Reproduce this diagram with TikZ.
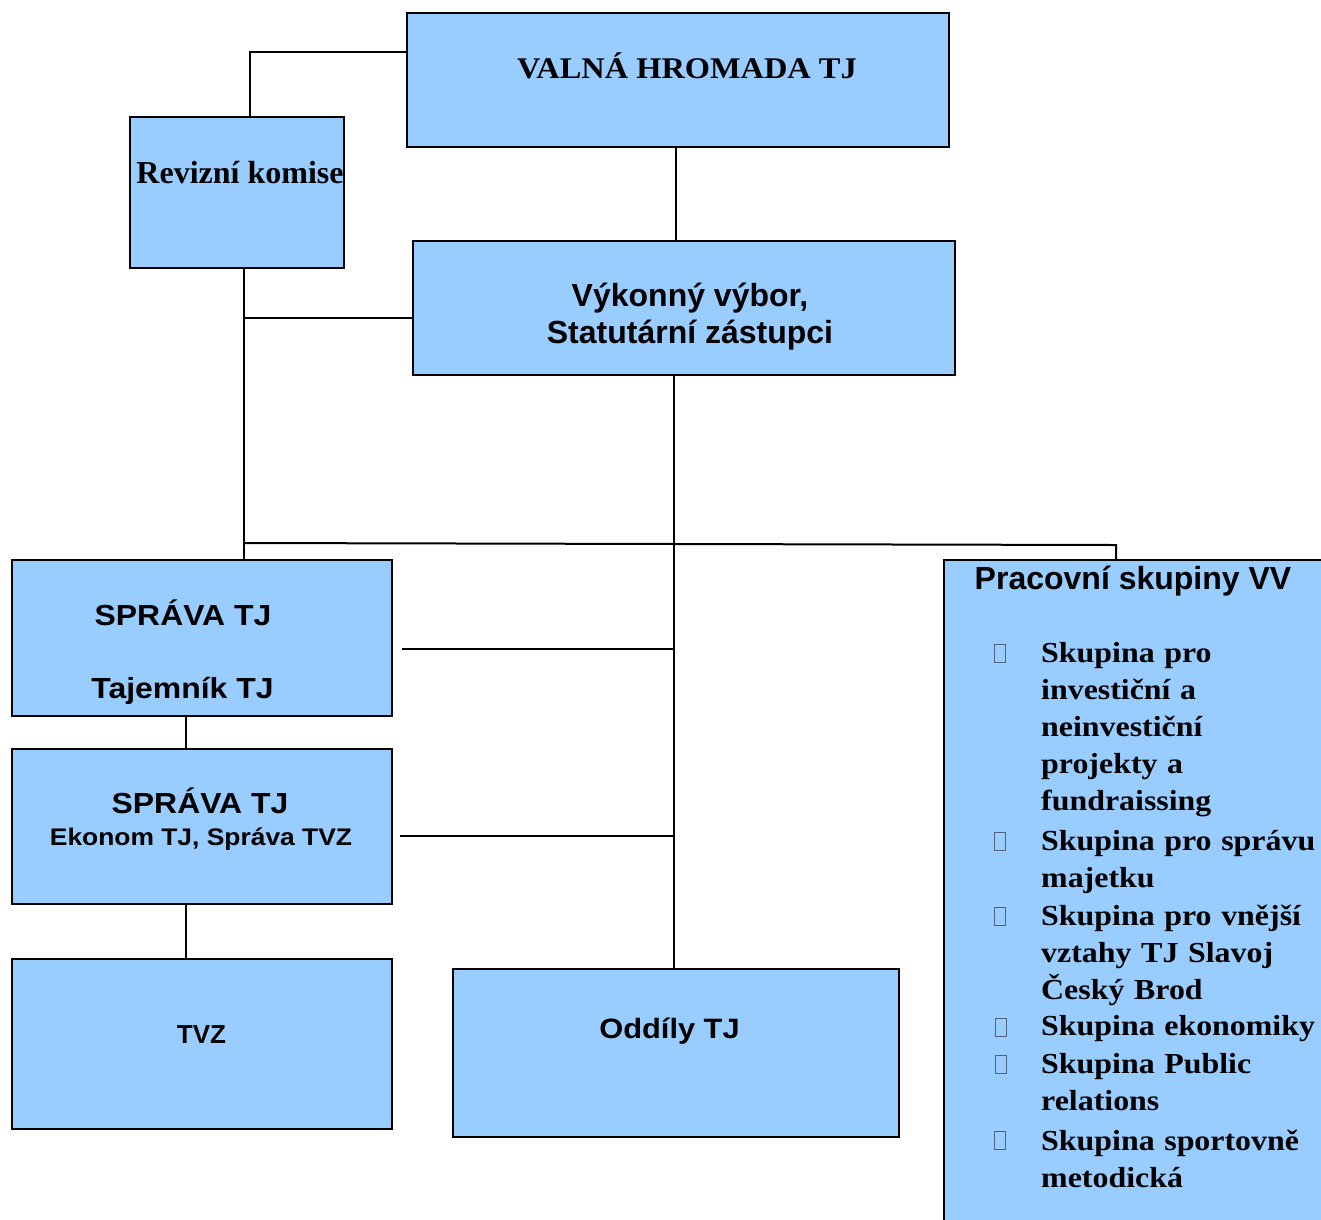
\documentclass[tikz,border=0pt]{standalone}
\usepackage{fontspec}
\setmainfont{Liberation Serif}
\newfontfamily\serifw[FakeStretch=1.1]{Liberation Serif}
\newfontfamily\serifv[FakeStretch=1.08]{Liberation Serif}
\newfontfamily\sansw[FakeStretch=1.1]{Liberation Sans}
\newfontfamily\sansn{Liberation Sans}
\usetikzlibrary{fit}
\definecolor{boxblue}{HTML}{99CCFF}
\definecolor{bulc}{RGB}{80,100,130}
\tikzset{
  box/.style={draw=black, line width=2pt, fill=boxblue, inner sep=0pt},
  conn/.style={line width=2pt, draw=black},
  txt/.style={inner sep=0pt, anchor=base},
  item/.style={inner sep=0pt, anchor=base west, text width=290pt, align=left,
     font=\serifw\bfseries\fontsize{29}{37}\selectfont},
  bul/.style={draw=bulc, line width=1pt, minimum width=11pt, minimum height=18pt,
     inner sep=0pt, anchor=south}
}
\begin{document}
\begin{tikzpicture}[x=1pt,y=-1pt]
\useasboundingbox (0,0) rectangle (1321,1219);
% boxes
\node[box, fit={(407,13) (949,147)}] (valna) {};
\node[box, fit={(130,117) (344,268)}] (revizni) {};
\node[box, fit={(413,241) (955,375)}] (vykonny) {};
\node[box, fit={(12,560) (392,716)}] (sprava1) {};
\node[box, fit={(12,749) (392,904)}] (sprava2) {};
\node[box, fit={(12,959) (392,1129)}] (tvz) {};
\node[box, fit={(453,969) (899,1137)}] (oddily) {};
\node[box, fit={(944,560) (1340,1240)}] (pracovni) {};
% coordinates
\coordinate (rk) at (250,52);
\coordinate (c1) at (676,0);
\coordinate (busL) at (243.5,543);
\coordinate (busR) at (1116,545);
\coordinate (c2) at (244,318);
\coordinate (c3) at (673.5,0);
\coordinate (s1) at (402,649);
\coordinate (s2) at (400,836);
\coordinate (c4) at (186,0);
% connectors
\draw[conn] (valna.west |- rk) -- (rk) -- (rk |- revizni.north);
\draw[conn] (c1 |- valna.south) -- (c1 |- vykonny.north);
\draw[conn] (busL |- revizni.south) -- (busL);
\draw[conn] (c2) -- (c2 -| vykonny.west);
\draw[conn] (busL) -- (busR) -- (busR |- pracovni.north);
\draw[conn] (busL) -- (busL |- sprava1.north);
\draw[conn] (c3 |- vykonny.south) -- (c3 |- oddily.north);
\draw[conn] (s1) -- (s1 -| c3);
\draw[conn] (s2) -- (s2 -| c3);
\draw[conn] (c4 |- sprava1.south) -- (c4 |- sprava2.north);
\draw[conn] (c4 |- sprava2.south) -- (c4 |- tvz.north);
% texts
\node[txt, font=\serifv\bfseries\fontsize{30}{36}\selectfont] (tvalna) at (687,78) {VALNÁ HROMADA TJ};
\node[txt, font=\bfseries\fontsize{32}{38}\selectfont] (trev) at (240,183) {Revizní komise};
\node[txt, font=\sansn\bfseries\fontsize{32}{38}\selectfont] (tvyk1) at (690,306) {Výkonný výbor,};
\node[txt, font=\sansn\bfseries\fontsize{32}{38}\selectfont] (tvyk2) at (690,343) {Statutární zástupci};
\node[txt, font=\sansw\bfseries\fontsize{29}{35}\selectfont] (ts1a) at (183,625) {SPRÁVA TJ};
\node[txt, font=\sansw\bfseries\fontsize{29}{35}\selectfont] (ts1b) at (182.5,698) {Tajemník TJ};
\node[txt, font=\sansw\bfseries\fontsize{29}{35}\selectfont] (ts2a) at (200,813) {SPRÁVA TJ};
\node[txt, font=\sansw\bfseries\fontsize{24}{30}\selectfont] (ts2b) at (201,845) {Ekonom TJ, Správa TVZ};
\node[txt, font=\sansn\bfseries\fontsize{26}{32}\selectfont] (ttvz) at (201.5,1043) {TVZ};
\node[txt, font=\sansw\bfseries\fontsize{28}{34}\selectfont] (todd) at (669.5,1038) {Oddíly TJ};
\node[txt, font=\sansn\bfseries\fontsize{32}{38}\selectfont] (tprac) at (1133,589) {Pracovní skupiny VV};
% list items
\node[item] (i1) at (1041,662) {Skupina pro\\investiční a\\neinvestiční\\projekty a\\fundraissing};
\node[item] (i2) at (1041,850) {Skupina pro správu\\majetku};
\node[item] (i3) at (1041,925) {Skupina pro vnější\\vztahy TJ Slavoj\\Český Brod};
\node[item] (i4) at (1041,1035) {Skupina ekonomiky};
\node[item] (i5) at (1041,1073) {Skupina Public\\relations};
\node[item] (i6) at (1041,1150) {Skupina sportovně\\metodická};
% bullets
\node[bul] (b1) at (999.5,663) {};
\node[bul] (b2) at (1000,851) {};
\node[bul] (b3) at (1000,926) {};
\node[bul] (b4) at (1001,1037) {};
\node[bul] (b5) at (1001,1074) {};
\node[bul] (b6) at (1000,1150) {};
\end{tikzpicture}
\end{document}
